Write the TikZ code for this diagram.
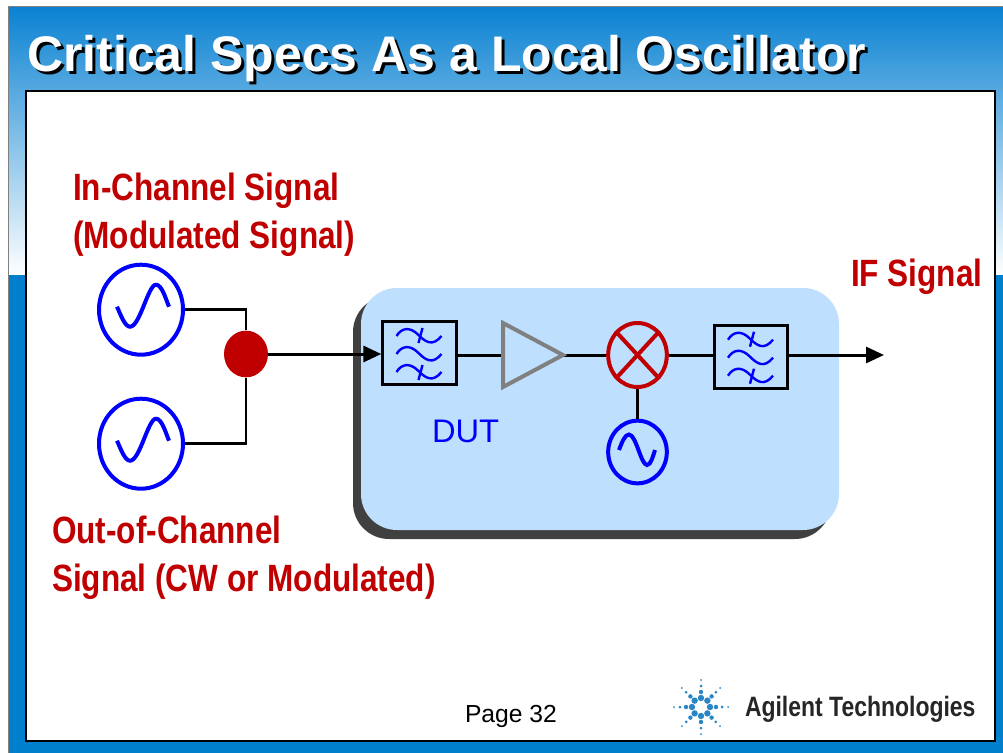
\documentclass[tikz,border=0pt]{standalone}
\usepackage{fontspec}
\setmainfont{Liberation Sans}
\newfontfamily\condf[FakeStretch=0.83]{Liberation Sans}
\newfontfamily\logof[FakeStretch=0.82]{Liberation Sans}
\usetikzlibrary{arrows.meta,calc,shapes.geometric}
\definecolor{agblue}{HTML}{0080CC}
\definecolor{agtop}{HTML}{0A82D2}
\definecolor{agmid}{HTML}{7CAEE0}
\definecolor{agred}{HTML}{C00000}
\definecolor{agsig}{HTML}{0000FF}
\definecolor{dutfill}{HTML}{BFDFFF}
\definecolor{dutshadow}{HTML}{404040}
\definecolor{ampgray}{HTML}{808080}
\definecolor{sparkc}{HTML}{2A85C5}
\tikzset{
  x=0.75pt,y=-0.75pt,
  lbl/.style={anchor=base west,inner sep=0pt,outer sep=0pt},
  redlbl/.style={lbl,text=agred,font=\condf\bfseries\fontsize{28.5}{30}\selectfont},
  titlelbl/.style={lbl,font=\bfseries\fontsize{37.5}{40}\selectfont},
  bigsrc/.style={ellipse,draw=agsig,line width=3pt,fill=white,inner sep=0pt,minimum width=63pt,minimum height=67.5pt},
  smallsrc/.style={ellipse,draw=agsig,line width=3pt,inner sep=0pt,minimum width=44pt,minimum height=47pt},
  mixer/.style={ellipse,draw=agred,line width=3pt,inner sep=0pt,minimum width=44pt,minimum height=48pt},
  wire/.style={black,line width=2.25pt},
  thinwire/.style={black,line width=1.9pt},
  arrowed/.style={wire,-{Triangle[length=13.5pt,width=12pt]}},
  filterbox/.style={rectangle,draw=black,line width=2.25pt,inner sep=0pt,minimum width=55pt,minimum height=47.5pt},
  sigline/.style={agsig,line width=1.8pt},
  sine/.style={agsig,line width=3pt},
}
\newcommand{\sinewave}[1]{%
  \draw[sine,shift={(#1)}] (-24,-3) .. controls (-20,6) and (-16,17) .. (-11,17)
    .. controls (-1,17) and (7,-25) .. (15,-25) .. controls (21,-25) and (25,-10) .. (28,-3);}
\newcommand{\losine}[1]{%
  \draw[sine,shift={(#1)}] (-19,-2) .. controls (-16,-10) and (-13,-17.5) .. (-9,-17.5)
    .. controls (-2,-17.5) and (3,13) .. (9,13) .. controls (13,13) and (15,4) .. (17,-2);}
\newcommand{\filterwave}[1]{%
  \begin{scope}[shift={(#1)}]
    \foreach \dy in {-17,1,19}{
      \draw[sigline] (-23,\dy) .. controls (-18,{\dy-8}) and (-10,{\dy-10}) .. (-1,{\dy-1})
        .. controls (6,{\dy+6}) and (13,{\dy+11}) .. (22,\dy);}
    \draw[sigline] (3,-25) -- (-1,-10);
    \draw[sigline] (3,12) -- (-1,27);
  \end{scope}}
\begin{document}
\begin{tikzpicture}
\useasboundingbox (0,0) rectangle (1003,753);
\fill[white] (0,0) rectangle (1003,753);
% slide background
\shade[top color=agtop,middle color=agmid,bottom color=white] (8,7) rectangle (1003,275);
\fill[agblue] (8,275) rectangle (1003,753);
\draw[gray,line width=0.8pt] (8.5,753) -- (8.5,6.5) -- (1003,6.5);
\fill[white,draw=black,line width=2pt] (26,91) rectangle (995,741);
% title
\node[titlelbl,text=black] (titleshadow) at (30,74) {Critical Specs As a Local Oscillator};
\node[titlelbl,text=white] (title) at (27,71) {Critical Specs As a Local Oscillator};
% DUT block
\fill[dutshadow,rounded corners=27pt] (353,296) rectangle (831,539);
\fill[dutfill,rounded corners=27pt] (361,288) rectangle (839,530);
% labels
\node[redlbl] (inlabel1) at (73,200) {In-Channel Signal};
\node[redlbl] (inlabel2) at (73,248) {(Modulated Signal)};
\node[redlbl] (iflabel) at (851,286) {IF Signal};
\node[redlbl] (outlabel1) at (52,543) {Out-of-Channel};
\node[redlbl] (outlabel2) at (52,591) {Signal (CW or Modulated)};
\node[lbl,text=agsig,font=\fontsize{24.5}{26}\selectfont] (dut) at (432,442) {DUT};
\node[lbl,text=black,font=\fontsize{18.5}{22}\selectfont] (page) at (465,722) {Page 32};
% components
\node[bigsrc] (src1) at (141,309.7) {};
\node[bigsrc] (src2) at (141,443.7) {};
\node[ellipse,fill=agred,inner sep=0pt,minimum width=33pt,minimum height=35pt] (join) at (246,354) {};
\node[filterbox] (f1) at (419.5,353) {};
\node[filterbox] (f2) at (751,356.7) {};
\node[mixer] (mix) at (637.5,355) {};
\node[smallsrc] (lo) at (637.5,452) {};
\coordinate (ampin) at (503,355);
\coordinate (ampout) at (563,355);
\coordinate (ifout) at (884,355);
% connectors
\draw[thinwire] (src1.east) -| (join.north);
\draw[thinwire] (src2.east) -| (join.south);
\draw[arrowed] (join.east) -- (join.east -| f1.west);
\draw[wire] (f1.east |- ampin) -- (ampin);
\draw[wire] (ampout) -- (mix.west);
\draw[wire] (mix.east) -- (f2.west |- mix.east);
\draw[arrowed] (f2.east |- ifout) -- (ifout);
\draw[wire] (mix.south) -- (lo.north);
% amplifier
\draw[ampgray,line width=3pt,line join=miter] (503,323) -- (563,355) -- (503,387) -- cycle;
% mixer cross
\draw[agred,line width=3pt] (mix.north west) -- (mix.south east);
\draw[agred,line width=3pt] (mix.north east) -- (mix.south west);
% waves
\sinewave{141,309.7}
\sinewave{141,443.7}
\losine{638,452}
\filterwave{419.5,353}
\filterwave{751,356.7}
% logo
\foreach \a in {0,45,...,315}{
  \foreach \r/\s in {9/3.2,15/2.2,21/1.5,27/1}{
    \fill[sparkc] ($(701,707)+(\a:\r)$) circle[radius=\s];}}
\node[lbl,text=black!85,font=\logof\bfseries\fontsize{21}{23}\selectfont] (logo) at (745,716) {Agilent Technologies};
\end{tikzpicture}
\end{document}
